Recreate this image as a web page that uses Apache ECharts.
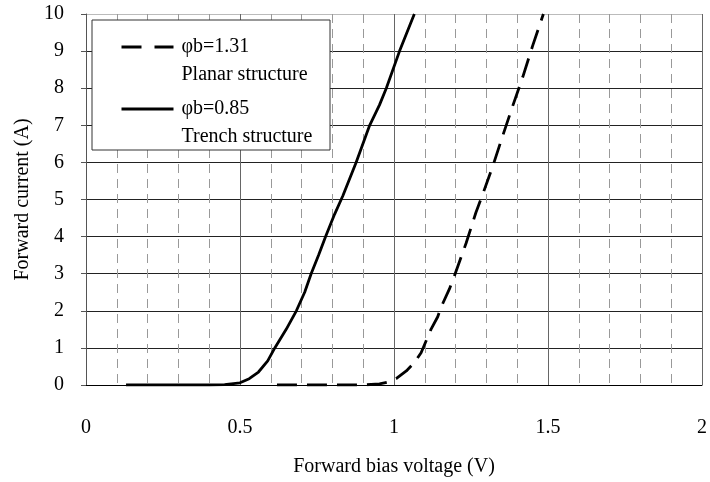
<!DOCTYPE html>
<html><head><meta charset="utf-8">
<script src="https://cdn.jsdelivr.net/npm/echarts@6/dist/echarts.min.js"></script>
<style>html,body{margin:0;padding:0;background:#fff}#c{width:710px;height:482px}</style>
</head><body><div id="c"></div>
<script>
const planarV = [0.62, 0.7, 0.8, 0.9, 0.953, 0.98, 1.007, 1.04, 1.066, 1.088, 1.12, 1.142, 1.153, 1.18, 1.196, 1.234, 1.266, 1.288, 1.32, 1.353, 1.385, 1.418, 1.45, 1.485];
const planarI = [0, 0, 0, 0, 0.03, 0.08, 0.17, 0.38, 0.6, 0.87, 1.5, 1.84, 2.1, 2.59, 2.94, 3.82, 4.65, 5.14, 5.88, 6.72, 7.51, 8.3, 9.14, 10];
const trenchV = [0.13, 0.2, 0.3, 0.4, 0.45, 0.5, 0.53, 0.56, 0.59, 0.613, 0.65, 0.683, 0.71, 0.731, 0.755, 0.778, 0.807, 0.834, 0.877, 0.921, 0.953, 0.975, 1.018, 1.066];
const trenchI = [0, 0, 0, 0, 0.01, 0.06, 0.17, 0.35, 0.65, 1.0, 1.5, 2.0, 2.5, 3.0, 3.5, 4.0, 4.6, 5.1, 6.0, 7.0, 7.55, 8.0, 9.0, 10.0];
const seriesNames = ['φb=1.31', 'φb=0.85'];
const seriesSub = ['Planar structure', 'Trench structure'];
const xTitle = 'Forward bias voltage (V)';
const yTitle = 'Forward current (A)';

const FONT = 'Liberation Serif';
const FS = 20;
const zip = (a, b) => a.map((v, i) => [v, b[i]]);
const chart = echarts.init(document.getElementById('c'), null, {renderer: 'canvas'});
const yColors = [];
for (let i = 0; i <= 10; i++) yColors.push(i === 10 ? '#bbb' : '#222');
chart.setOption({
  animation: false,
  grid: {left: 86, right: 7, top: 14, bottom: 89, containLabel: false},
  xAxis: {
    type: 'value', min: 0, max: 2, interval: 0.5, minorTick: {show: false, splitNumber: 5},
    axisLine: {show: true, lineStyle: {color: '#000', width: 1}},
    axisTick: {show: false},
    axisLabel: {fontFamily: FONT, fontSize: FS, color: '#000', margin: 33},
    splitLine: {show: true, lineStyle: {color: '#666', width: 1}},
    minorSplitLine: {show: true, lineStyle: {color: '#999', width: 1, type: [9, 6]}},
    name: xTitle, nameLocation: 'middle', nameGap: 72,
    nameTextStyle: {fontFamily: FONT, fontSize: FS, color: '#000'}
  },
  yAxis: {
    type: 'value', min: 0, max: 10, interval: 1,
    axisLine: {show: true, lineStyle: {color: '#555', width: 1}},
    axisTick: {show: true, length: 5, lineStyle: {color: '#555'}},
    axisLabel: {fontFamily: FONT, fontSize: FS, color: '#000', margin: 22},
    splitLine: {show: true, lineStyle: {color: yColors, width: 1}},
    name: yTitle, nameLocation: 'middle', nameGap: 53,
    nameTextStyle: {fontFamily: FONT, fontSize: FS, color: '#000'}
  },
  graphic: [{
    type: 'rect', shape: {x: 92, y: 20, width: 238, height: 130},
    style: {fill: '#fff', stroke: '#333', lineWidth: 1}, z: 5
  }],
  legend: {
    orient: 'vertical', left: 120, top: 9, padding: 0, itemGap: -14,
    itemWidth: 52, itemHeight: 14, z: 10,
    itemStyle: {opacity: 0},
    data: [
      {name: seriesNames[0], itemStyle: {opacity: 0}, lineStyle: {color: '#000', width: 3, type: [20, 13]}},
      {name: seriesNames[1], itemStyle: {opacity: 0}, lineStyle: {color: '#000', width: 3, type: 'solid'}}
    ],
    formatter: function (name) {
      const i = seriesNames.indexOf(name);
      return '{p| }\n{a|' + name + '}\n{a|' + seriesSub[i] + '}';
    },
    textStyle: {
      fontFamily: FONT, fontSize: FS, color: '#000', padding: [0, 0, 0, 3],
      rich: {
        p: {fontFamily: FONT, fontSize: FS, lineHeight: 28},
        a: {fontFamily: FONT, fontSize: FS, lineHeight: 28, color: '#000'}
      }
    }
  },
  series: [
    {name: seriesNames[0], type: 'line', data: zip(planarV, planarI), showSymbol: false, symbol: 'none',
     itemStyle: {color: '#000'},
     lineStyle: {color: '#000', width: 2.8, type: [20, 10]}, z: 3},
    {name: seriesNames[1], type: 'line', data: zip(trenchV, trenchI), showSymbol: false, symbol: 'none',
     itemStyle: {color: '#000'},
     lineStyle: {color: '#000', width: 2.8, type: 'solid'}, z: 3}
  ]
});
</script></body></html>
